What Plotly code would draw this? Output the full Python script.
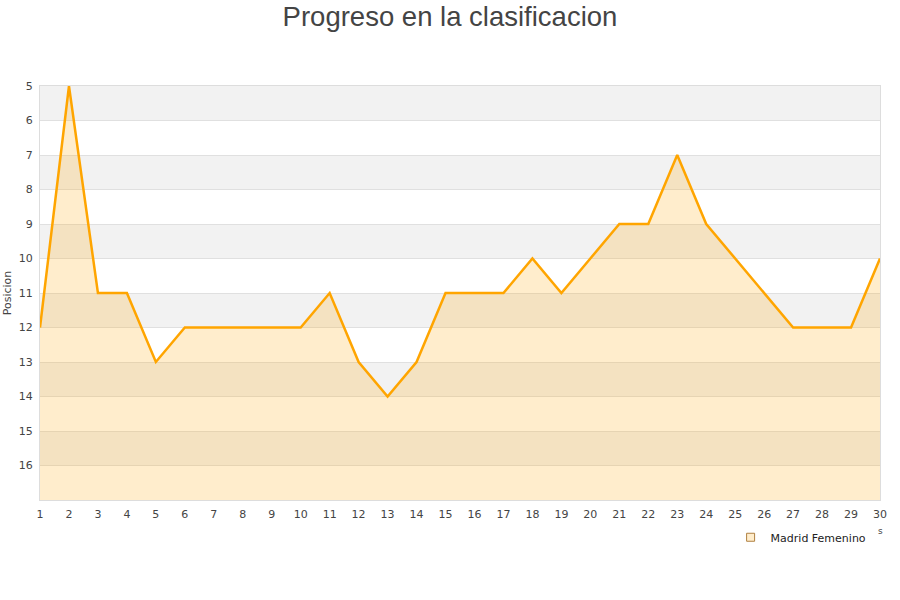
import plotly.graph_objects as go

jornadas = list(range(1, 31))
posiciones = [12, 5, 11, 11, 13, 12, 12, 12, 12, 12, 11, 13, 14, 13, 11, 11, 11, 10, 11, 10,
              9, 9, 7, 9, 10, 11, 12, 12, 12, 10]
equipo = "Madrid Femenino"
y_ticks = list(range(5, 17))
y_min, y_max = 5, 17

fig = go.Figure()

# baseline for fill
fig.add_trace(go.Scatter(x=jornadas, y=[y_max] * len(jornadas), mode="lines",
                         line=dict(width=0, color="rgba(0,0,0,0)"), showlegend=False,
                         hoverinfo="skip"))
fig.add_trace(go.Scatter(x=jornadas, y=posiciones, mode="lines", fill="tonexty",
                         fillcolor="rgba(255,165,0,0.2)",
                         line=dict(color="#ffa500", width=2.5), showlegend=False,
                         name=equipo))
fig.add_trace(go.Scatter(x=[None], y=[None], mode="markers", name=equipo,
                         marker=dict(symbol="square", size=8, color="rgba(255,165,0,0.2)",
                                     line=dict(color="#b08040", width=1))))

shapes = []
for b in range(y_min, y_max, 2):
    shapes.append(dict(type="rect", xref="paper", yref="y", x0=0, x1=1, y0=b, y1=b + 1,
                       fillcolor="#f2f2f2", line=dict(width=0), layer="below"))

fig.update_layout(
    width=900, height=600,
    paper_bgcolor="white", plot_bgcolor="white",
    margin=dict(l=40, r=20, t=86, b=100, autoexpand=False),
    title=dict(text="Progreso en la clasificacion", x=0.5, xanchor="center",
               y=1 - 16 / 600, yref="container", yanchor="middle",
               font=dict(family="Liberation Sans, Arial", size=27.5, color="#444")),
    shapes=shapes,
    font=dict(family="DejaVu Sans", size=11, color="#444"),
    xaxis=dict(range=[1, 30], tickmode="array", tickvals=jornadas,
               ticktext=[str(j) for j in jornadas], showgrid=False, zeroline=False,
               showline=True, linecolor="#dddddd", mirror=True, ticks="",
               automargin=False, ticklabelstandoff=4,
               tickfont=dict(size=11, color="#444")),
    yaxis=dict(range=[y_max, y_min], tickmode="array", tickvals=y_ticks,
               ticktext=[str(t) for t in y_ticks], showgrid=True, gridcolor="#e0e0e0",
               zeroline=False, showline=True, linecolor="#dddddd", mirror=True, ticks="",
               automargin=False, ticklabelstandoff=4,
               title=dict(text="Posicion", font=dict(size=11, color="#444"), standoff=4),
               tickfont=dict(size=11, color="#444")),
    legend=dict(x=0.99, xanchor="right", y=-0.09, yanchor="middle",
                font=dict(family="DejaVu Sans", size=11, color="#222"),
                bgcolor="rgba(0,0,0,0)"),
    annotations=[dict(text="s", x=1.0, xref="paper", y=-0.075, yref="paper",
                      showarrow=False, xanchor="center", yanchor="middle",
                      font=dict(size=9, color="#444"))],
)

fig.write_html("out.html", config={"displayModeBar": False},
               post_script="document.body.style.margin='0';")
